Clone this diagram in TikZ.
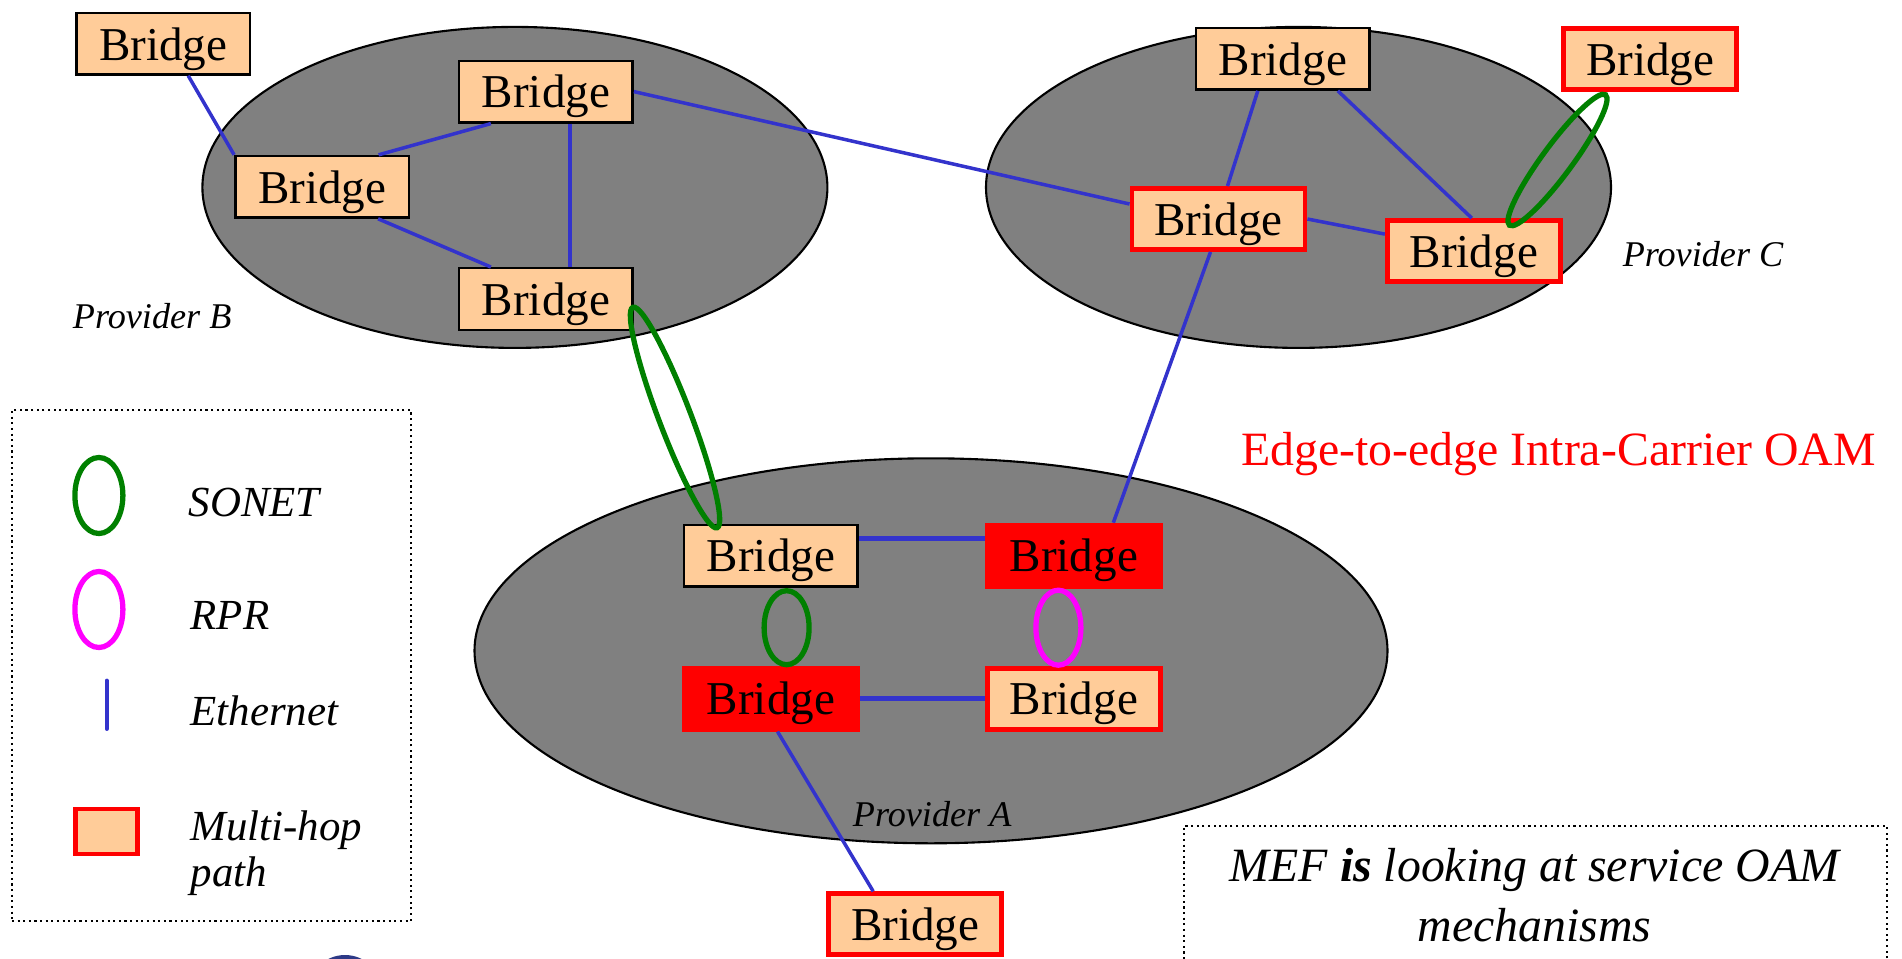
\documentclass[tikz,border=0pt]{standalone}
\usepackage{fontspec}
\setmainfont{Liberation Serif}
\usepackage{xcolor}
\usepackage{tikz}
\usetikzlibrary{
    positioning,
    shapes.geometric,
}

\definecolor{bridgefill}{RGB}{255,204,153}
\definecolor{ethblue}{RGB}{51,51,204}
\definecolor{sonetgreen}{RGB}{0,128,0}
\definecolor{rprmagenta}{RGB}{255,0,255}
\definecolor{cloudgray}{RGB}{128,128,128}
\definecolor{blobblue}{RGB}{46,58,135}

\begin{document}
\begin{tikzpicture}[
        bridge/.style={
            rectangle, draw=black, line width=0.7pt, fill=bridgefill,
            minimum width=1.735cm, minimum height=0.615cm, inner sep=0pt,
            text depth=0pt, font=\fontsize{13.4}{15}\selectfont
        },
        hopbridge/.style={
            bridge, draw=red, line width=1.4pt,
            minimum width=1.73cm, minimum height=0.61cm
        },
        edgebridge/.style={hopbridge, fill=red},
        provider/.style={
            ellipse, draw=black, line width=0.6pt, fill=cloudgray, inner sep=0pt
        },
        sonet/.style={ellipse, draw=sonetgreen, line width=1.5pt, inner sep=0pt},
        rpr/.style={ellipse, draw=rprmagenta, line width=1.5pt, inner sep=0pt},
        eth/.style={draw=ethblue, line width=1pt},
        ethbold/.style={draw=ethblue, line width=1.6pt},
        provlabel/.style={
            font=\fontsize{10.3}{12}\selectfont\itshape, inner sep=0pt, anchor=base
        },
        legtext/.style={
            font=\fontsize{12.2}{13.1}\selectfont\itshape, inner sep=0pt,
            anchor=base west
        },
        notebox/.style={draw=black, densely dotted, line width=0.6pt, inner sep=0pt},
    ]
    \useasboundingbox (0,0) rectangle (19.02,-9.58);

    % ── Providers ──
    \node[provider, minimum width=6.25cm, minimum height=3.21cm] (provB) at (5.149,-1.874) {};
    \node[provider, minimum width=6.25cm, minimum height=3.21cm] (provC) at (12.985,-1.874) {};
    \node[provider, minimum width=9.13cm, minimum height=3.85cm] (provA) at (9.310,-6.508) {};

    \node[provlabel] (labB) at (1.522,-3.286) {Provider B};
    \node[provlabel] (labC) at (17.03,-2.669) {Provider C};
    \node[provlabel] (labA) at (9.322,-8.26) {Provider A};

    % ── Provider B bridges ──
    \node[bridge] (b0) at (1.632,-0.437) {Bridge};
    \node[bridge] (b1) at (5.459,-0.916) {Bridge};
    \node[bridge] (b2) at (3.221,-1.868) {Bridge};
    \node[bridge] (b3) at (5.459,-2.990) {Bridge};

    % ── Provider C bridges ──
    \node[bridge] (c1) at (12.828,-0.588) {Bridge};
    \node[hopbridge] (c2) at (16.503,-0.588) {Bridge};
    \node[hopbridge] (c3) at (12.185,-2.190) {Bridge};
    \node[hopbridge] (c4) at (14.738,-2.511) {Bridge};

    % ── Provider A bridges ──
    \node[bridge] (a1) at (7.709,-5.556) {Bridge};
    \node[edgebridge, right=1.26cm of a1] (a2) {Bridge};
    \node[edgebridge, below=0.78cm of a1] (a3) {Bridge};
    \node[hopbridge, right=1.25cm of a3] (a4) {Bridge};
    \node[hopbridge] (a5) at (9.152,-9.243) {Bridge};

    % ── Ethernet links ──
    \draw[eth] ([xshift=0.25cm]b0.south) -- (b2.north west);
    \draw[eth] ([xshift=-0.55cm]b1.south) -- ([xshift=0.565cm]b2.north);
    \draw[eth] ([xshift=0.24cm]b1.south) -- ([xshift=0.24cm]b3.north);
    \draw[eth] ([xshift=0.56cm]b2.south) -- ([xshift=-0.55cm]b3.north);
    \draw[eth] (b1.east) -- ([yshift=0.15cm]c3.west);
    \draw[eth] ([xshift=-0.25cm]c1.south) -- ([xshift=0.09cm]c3.north);
    \draw[eth] ([xshift=0.55cm]c1.south) -- ([xshift=-0.02cm]c4.north);
    \draw[eth] (c3.east) -- ([yshift=0.17cm]c4.west);
    \draw[eth] ([xshift=-0.08cm]c3.south) -- ([xshift=0.395cm]a2.north);
    \draw[ethbold] ([yshift=0.17cm]a1.east) -- ([yshift=0.17cm]a2.west);
    \draw[ethbold] (a3.east) -- (a4.west);
    \draw[eth] ([xshift=0.066cm]a3.south) -- ([xshift=-0.42cm]a5.north);

    % ── SONET / RPR rings ──
    \node[sonet, rotate=-69.1, minimum width=2.36cm, minimum height=0.32cm] (sonetBA) at (6.75,-4.175) {};
    \node[sonet, rotate=53.6, minimum width=1.62cm, minimum height=0.30cm] (sonetC) at (15.575,-1.60) {};
    \node[sonet, minimum width=0.45cm, minimum height=0.74cm] (sonetA) at (7.866,-6.277) {};
    \node[rpr, minimum width=0.45cm, minimum height=0.75cm] (rprA) at (10.584,-6.277) {};

    \node[font=\fontsize{13.6}{16}\selectfont, text=red, inner sep=0pt, anchor=base]
        (oamlabel) at (15.587,-4.658) {Edge-to-edge Intra-Carrier OAM};

    % ── Legend ──
    \node[notebox, minimum width=3.99cm, minimum height=5.11cm, anchor=north west]
        (legend) at (0.109,-4.088) {};
    \node[sonet, minimum width=0.48cm, minimum height=0.76cm] (legsonet) at (0.989,-4.955) {};
    \node[rpr, minimum width=0.48cm, minimum height=0.76cm] (legrpr) at (0.989,-6.095) {};
    \coordinate (legethtop) at (1.067,-6.805);
    \coordinate (legethbot) at (1.067,-7.29);
    \draw[eth, line width=1.1pt, line cap=round] (legethtop) -- (legethbot);
    \node[hopbridge, minimum width=0.62cm, minimum height=0.45cm] (leghop) at (1.061,-8.315) {};

    \node[legtext] (sonettext) at (1.88,-5.167) {SONET};
    \node[legtext] (rprtext) at (1.90,-6.296) {RPR};
    \node[legtext] (ethtext) at (1.90,-7.25) {Ethernet};
    \node[legtext, anchor=north west, align=left] (hoptext) at (1.90,-8.10) {Multi-hop\\path};

    % ── Note ──
    \node[notebox, minimum width=7.035cm, minimum height=2.5cm, anchor=north west]
        (mefbox) at (11.827,-8.248) {};
    \node[font=\fontsize{13.6}{16.9}\selectfont\itshape, align=center, inner sep=0pt]
        (meftext) at (15.345,-8.952) {MEF \textbf{is} looking at service OAM\\mechanisms};

    \node[circle, fill=blobblue, minimum size=0.74cm, inner sep=0pt] (blob) at (3.45,-9.92) {};

\end{tikzpicture}
\end{document}
